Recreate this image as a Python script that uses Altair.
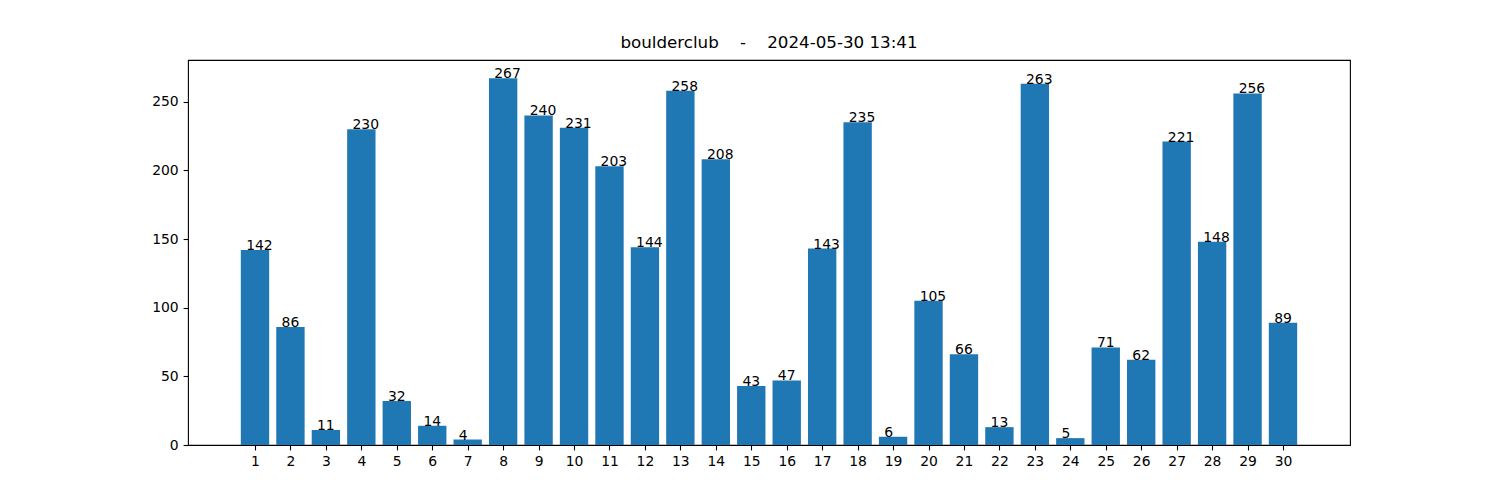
import altair as alt
import pandas as pd

days = list(range(1, 31))
counts = [142, 86, 11, 230, 32, 14, 4, 267, 240, 231, 203, 144, 258, 208, 43,
          47, 143, 235, 6, 105, 66, 13, 263, 5, 71, 62, 221, 148, 256, 89]
title_text = "boulderclub\u00a0\u00a0\u00a0\u00a0-\u00a0\u00a0\u00a0\u00a02024-05-30 13:41"
y_ticks = [0, 50, 100, 150, 200, 250]

df = pd.DataFrame({"day": days, "count": counts})

font = "DejaVu Sans"
x_scale = alt.Scale(domain=[-0.89, 31.89], nice=False, zero=False, padding=0)
y_scale = alt.Scale(domain=[0, 280.35], nice=False, zero=True, padding=0)

base = alt.Chart(df).transform_calculate(
    x0="datum.day - 0.4", x1="datum.day + 0.4", xt="datum.day - 0.25"
)

bars = base.mark_bar(color="#1f77b4", orient="vertical").encode(
    x=alt.X("x0:Q", scale=x_scale,
            axis=alt.Axis(values=days, format="d", title=None)),
    x2="x1:Q",
    y=alt.Y("count:Q", scale=y_scale,
            axis=alt.Axis(values=y_ticks, format="d", title=None)),
    y2=alt.Y2(datum=0),
)

labels = base.mark_text(
    align="left", baseline="alphabetic", fontSize=13.9, font=font, color="black"
).encode(
    x=alt.X("xt:Q", scale=x_scale),
    y=alt.Y("count:Q", scale=y_scale),
    text=alt.Text("count:Q", format="d"),
)

chart = (
    alt.layer(bars, labels)
    .properties(
        width=1162,
        height=385,
        title=alt.TitleParams(
            text=title_text, fontSize=16.7, font=font, fontWeight="normal",
            anchor="middle", offset=8, color="black",
        ),
        autosize=alt.AutoSizeParams(type="none"),
        padding={"left": 180, "top": 52, "right": 130, "bottom": 30},
    )
    .configure_view(stroke="black", strokeWidth=1.1)
    .configure_axis(
        domain=False, grid=False, tickColor="black", tickWidth=1.1, tickSize=4.9,
        labelFont=font, labelFontSize=13.9, labelColor="black", labelPadding=4.9,
        labelFlush=False,
    )
)

chart.save("out.html", embed_options={"renderer": "svg", "actions": False})
